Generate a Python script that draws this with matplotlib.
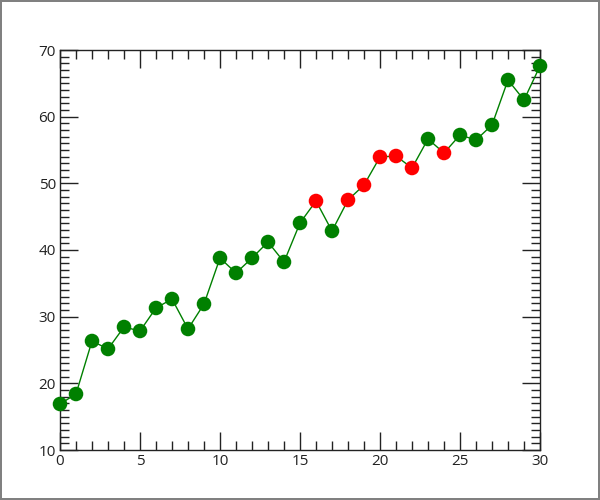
import numpy as np
import matplotlib.pyplot as plt
from matplotlib.ticker import MultipleLocator

plt.rcParams['font.family'] = ['Open Sans', 'DejaVu Sans']

# values
x = list(range(31))
y = [16.9, 18.4, 26.35, 25.15, 28.45, 27.85, 31.3, 32.65, 28.15, 31.9,
     38.8, 36.55, 38.8, 41.2, 38.2, 44.05, 47.35, 42.85, 47.5, 49.75,
     53.95, 54.1, 52.3, 56.65, 54.55, 57.25, 56.5, 58.75, 65.5, 62.5, 67.6]
# points highlighted in red
red_x = [16, 18, 19, 20, 21, 22, 24]

fig = plt.figure(figsize=(6, 5), dpi=100, linewidth=1.5, edgecolor='#808080')
ax = fig.add_axes([0.1, 0.1, 0.8, 0.8])

ax.plot(x, y, '-', color='green', lw=1, zorder=2)
cols = ['red' if xi in red_x else 'green' for xi in x]
ax.scatter(x, y, s=110, c=cols, edgecolors='none', zorder=3, clip_on=False)

ax.set_xlim(0, 30)
ax.set_ylim(10, 70)
ax.xaxis.set_major_locator(MultipleLocator(5))
ax.xaxis.set_minor_locator(MultipleLocator(1))
ax.yaxis.set_major_locator(MultipleLocator(10))
ax.yaxis.set_minor_locator(MultipleLocator(1))
ax.tick_params(which='both', direction='in', top=True, right=True,
               width=1, color='#222222', labelsize=11, labelcolor='#222222', pad=3)
ax.tick_params(which='major', length=13)
ax.tick_params(which='minor', length=6.5)
for sp in ax.spines.values():
    sp.set_color('#222222')
    sp.set_linewidth(1)

fig.savefig('out.png', dpi=100, edgecolor=fig.get_edgecolor())
